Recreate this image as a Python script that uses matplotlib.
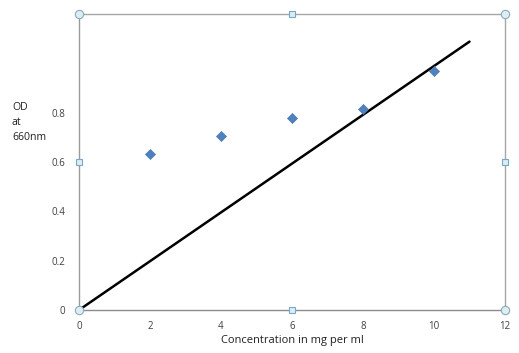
import matplotlib
matplotlib.use("Agg")
import matplotlib.pyplot as plt

conc = [2, 4, 6, 8, 10]
od = [0.634, 0.707, 0.780, 0.816, 0.970]
line_x = [0, 11]
line_y = [0, 1.088]
xticks = [0, 2, 4, 6, 8, 10, 12]
yticks = [0, 0.2, 0.4, 0.6, 0.8]
ytick_labels = ["0", "0.2", "0.4", "0.6", "0.8"]

plt.rcParams['font.family'] = ['Open Sans', 'DejaVu Sans']

fig = plt.figure(figsize=(5.19, 3.53), dpi=100)
ax = fig.add_axes([79/519, 1-310/353, (505-79)/519, (310-14)/353])
ax.set_xlim(0, 12)
ax.set_ylim(0, 1.2)

ax.plot(line_x, line_y, color='black', lw=1.8, solid_capstyle='round', zorder=3)
ax.scatter(conc, od, marker='D', s=26, color='#4f81bd', edgecolors='#4a7ab5', linewidths=0.5, zorder=4)

for side in ['left', 'right', 'top', 'bottom']:
    ax.spines[side].set_color('#a6a6a6')
    ax.spines[side].set_linewidth(1.0)
ax.spines['left'].set_color('#9a9a9a')
ax.spines['bottom'].set_color('#8c8c8c')

ax.set_xticks(xticks)
ax.set_xticklabels([str(t) for t in xticks])
ax.set_yticks(yticks)
ax.set_yticklabels(ytick_labels)
ax.tick_params(length=0, labelsize=7, colors='#404040', pad=8)
ax.tick_params(axis='y', pad=10)

ax.set_xlabel("Concentration in mg per ml", fontsize=8, color='#202020', labelpad=2)
fig.text(12/519, 1-102/353, "OD\nat\n660nm", fontsize=7.6, color='#202020', va='top', ha='left', linespacing=1.5)

# selection handles
hc = dict(transform=ax.transAxes, clip_on=False, zorder=5)
for (x, y) in [(0, 0), (1, 0), (0, 1), (1, 1)]:
    ax.plot([x], [y], marker='o', ms=6, mfc='#dbeef3', mec='#8fa9b8', mew=0.8, **hc)
for (x, y) in [(0.5, 0), (0.5, 1), (0, 0.5), (1, 0.5)]:
    ax.plot([x], [y], marker='s', ms=5, mfc='#dbeef3', mec='#7aa7c7', mew=0.8, **hc)

fig.savefig("out.png", dpi=100)
